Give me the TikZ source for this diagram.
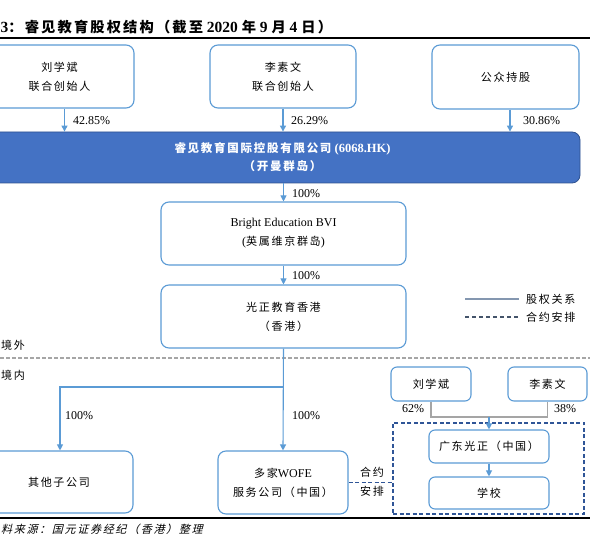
\documentclass[tikz,border=0pt]{standalone}
\usepackage{fontspec}
\setmainfont{Liberation Serif}
\newfontfamily\cjk{Noto Sans CJK SC}[Scale=0.92,LetterSpace=15]
\newfontfamily\cjkit{Noto Sans CJK SC}[Scale=0.92,LetterSpace=15,FakeSlant=0.25]
\usetikzlibrary{arrows.meta}
\definecolor{boxline}{HTML}{5B9BD5}
\definecolor{mainfill}{HTML}{4472C4}
\definecolor{mainline}{HTML}{2F528F}
\definecolor{sepgray}{HTML}{A6A6A6}
\definecolor{vieblue}{HTML}{2F5597}
\definecolor{linkgray}{HTML}{A5A5A5}
\definecolor{legsolid}{HTML}{8497B0}
\definecolor{legdash}{HTML}{44546A}

\begin{document}
\begin{tikzpicture}[x=1pt,y=-1pt,line cap=butt,
  entity/.style={draw=boxline,line width=1.1pt,rounded corners=8pt,fill=white,align=center,inner sep=0pt,font=\fontsize{12}{19}\selectfont},
  small/.style={entity,rounded corners=6pt},
  listed/.style={draw=mainline,line width=0.8pt,fill=mainfill,rounded corners=8pt,text=white,align=center,inner sep=0pt,font=\fontsize{12.5}{18}\selectfont\bfseries},
  own/.style={draw=boxline,line width=1.1pt,-{Triangle[length=6pt,width=6pt]}},
  pct/.style={anchor=west,inner sep=0pt,font=\fontsize{12}{14}\selectfont},
  tag/.style={anchor=west,inner sep=0pt,font=\fontsize{12}{14}\selectfont\cjk}]
\useasboundingbox (0,0) rectangle (590,537);
\clip (0,0) rectangle (590,537);

% title and rules
\node[anchor=west,inner sep=0pt,font=\fontsize{15.5}{18}\selectfont\bfseries] (title) at (0.5,27)
  {3{\cjk ：睿见教育股权结构（截至} 2020 {\cjk 年} 9 {\cjk 月} 4 {\cjk 日）}};
\draw[line width=1.6pt] (0,38) -- (590,38);
\draw[line width=1.6pt] (0,518) -- (590,518);
\node[anchor=west,inner sep=0pt,font=\fontsize{12}{14}\selectfont\cjkit] (source) at (1,529) {料来源：国元证券经纪（香港）整理};

% shareholders
\node[entity,minimum width=149,minimum height=63] (liu) at (59.5,76.5) {{\cjk 刘学斌}\\{\cjk 联合创始人}};
\node[entity,minimum width=146,minimum height=63] (li) at (283,76.5) {{\cjk 李素文}\\{\cjk 联合创始人}};
\node[entity,minimum width=147,minimum height=64] (public) at (505.5,77) {{\cjk 公众持股}};

% listed company
\node[listed,minimum width=595,minimum height=51] (ruijian) at (282.5,157.5)
  {{\cjk 睿见教育国际控股有限公司} (6068.HK)\\{\cjk （开曼群岛）}};

\draw[own] ([xshift=5]liu.south) -- ([xshift=5]liu.south |- ruijian.north);
\draw[own] (li.south) -- (li.south |- ruijian.north);
\draw[own] ([xshift=4.5]public.south) -- ([xshift=4.5]public.south |- ruijian.north);
\node[pct] (p1) at (73,121) {42.85\%};
\node[pct] (p2) at (291,121) {26.29\%};
\node[pct] (p3) at (523,121) {30.86\%};

% offshore chain
\node[entity,minimum width=245,minimum height=63] (bvi) at (283.5,233.5) {Bright Education BVI\\({\cjk 英属维京群岛})};
\node[entity,minimum width=245,minimum height=63] (gzhk) at (283.5,316.5) {{\cjk 光正教育香港}\\{\cjk （香港）}};
\draw[own] (ruijian.south -| bvi.north) -- (bvi.north);
\draw[own] (bvi.south) -- (gzhk.north);
\node[pct] (p4) at (292,194) {100\%};
\node[pct] (p5) at (292,276) {100\%};

% legend
\coordinate (lg1) at (465,299);
\coordinate (lg2) at (519,299);
\coordinate (lg3) at (465,317);
\coordinate (lg4) at (519,317);
\draw[legsolid,line width=1.4pt] (lg1) -- (lg2);
\draw[legdash,line width=1.4pt,dash pattern=on 4pt off 3pt] (lg3) -- (lg4);
\node[tag] (lgt1) at (526,299) {股权关系};
\node[tag] (lgt2) at (526,317) {合约安排};

% border line
\draw[sepgray,line width=1.4pt,dash pattern=on 4pt off 2pt] (0,358) -- (590,358);
\node[tag] (outside) at (1,345) {境外};
\node[tag] (inside) at (1,375) {境内};

% onshore
\node[entity,minimum width=148,minimum height=62] (other) at (59,482) {{\cjk 其他子公司}};
\node[entity,minimum width=130,minimum height=63] (wofe) at (283,482.5) {{\cjk 多家}WOFE\\{\cjk 服务公司（中国）}};
\coordinate (branch) at (283,387);
\draw[own] (gzhk.south) -- (wofe.north);
\draw[own] (branch) -| ([xshift=1]other.north);
\node[pct] (p6) at (65,416) {100\%};
\node[pct] (p7) at (292,416) {100\%};

% domestic group
\node[small,minimum width=80,minimum height=34] (liu2) at (431,384) {{\cjk 刘学斌}};
\node[small,minimum width=79,minimum height=34] (li2) at (547.5,384) {{\cjk 李素文}};
\node[draw=vieblue,line width=1.1pt,dash pattern=on 4pt off 2.5pt,minimum width=191,minimum height=91,inner sep=0pt] (vie) at (488.5,468.5) {};
\node[small,minimum width=120,minimum height=33] (gdgz) at (489,446.5) {{\cjk 广东光正（中国）}};
\node[small,minimum width=120,minimum height=32] (school) at (489,493) {{\cjk 学校}};
\coordinate (join) at (489,417);
\draw[linkgray,line width=1.1pt] (liu2.south) |- (li2.south |- join) -- (li2.south);
\draw[own] (join) -- (gdgz.north);
\draw[own] (gdgz.south) -- (school.north);
\node[pct] (p8) at (402,409) {62\%};
\node[pct] (p9) at (554,409) {38\%};

% contract arrangement
\draw[vieblue,line width=1.1pt,dash pattern=on 4pt off 2.5pt] (wofe.east) -- (wofe.east -| vie.west);
\node[tag] (ct1) at (360,472) {合约};
\node[tag] (ct2) at (360,491) {安排};
\end{tikzpicture}
\end{document}
